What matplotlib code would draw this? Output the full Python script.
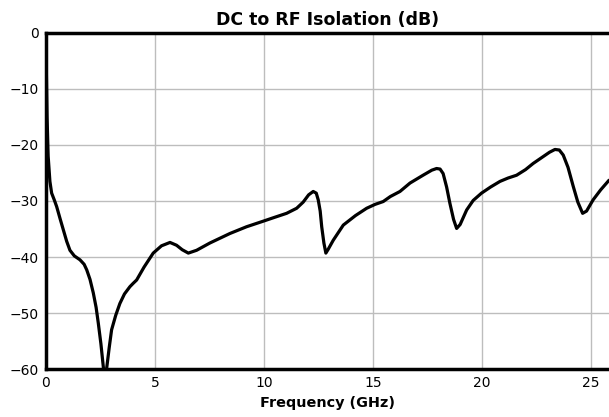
import matplotlib
matplotlib.use("Agg")
import matplotlib.pyplot as plt

# DC to RF isolation
freq_ghz = [
    0.02, 0.05, 0.1, 0.18, 0.26, 0.38, 0.49, 0.65, 0.8, 0.95, 1.1, 1.3,
    1.56, 1.75, 1.87, 2.02, 2.17, 2.3, 2.4, 2.52, 2.63, 2.68, 2.78, 2.9,
    3.01, 3.2, 3.39, 3.6, 3.85, 4.0, 4.16, 4.5, 4.92, 5.3, 5.69, 5.99,
    6.25, 6.53, 6.91, 7.52, 8.44, 9.2, 9.97, 10.5, 11.04, 11.5, 11.8,
    12.05, 12.26, 12.4, 12.49, 12.58, 12.65, 12.75, 12.84, 12.95, 13.18,
    13.64, 14.2, 14.71, 15.1, 15.47, 15.8, 16.24, 16.7, 17.3, 17.7, 17.92,
    18.08, 18.22, 18.38, 18.53, 18.7, 18.84, 19.0, 19.3, 19.6, 19.98,
    20.4, 20.83, 21.2, 21.59, 22.0, 22.35, 22.8, 23.1, 23.35, 23.55,
    23.73, 23.95, 24.19, 24.4, 24.62, 24.8, 25.1, 25.45, 25.83,
]
isolation_db = [
    -7.5, -15, -22, -26.5, -28.6, -29.8, -31, -33.2, -35.2, -37.2, -38.8,
    -39.8, -40.5, -41.3, -42.3, -44.0, -46.4, -49.0, -51.8, -55.5, -59.6,
    -62, -60, -56.2, -53, -50.4, -48.3, -46.6, -45.3, -44.7, -44.1, -41.8,
    -39.3, -38.0, -37.4, -37.9, -38.7, -39.3, -38.8, -37.5, -35.8, -34.6,
    -33.6, -32.9, -32.2, -31.3, -30.2, -28.9, -28.3, -28.6, -29.8, -31.8,
    -34.6, -37.5, -39.3, -38.6, -37.0, -34.3, -32.6, -31.3, -30.6, -30.1,
    -29.2, -28.3, -26.8, -25.4, -24.5, -24.2, -24.3, -25.1, -27.5, -30.4,
    -33.3, -34.9, -34.2, -31.6, -29.9, -28.6, -27.5, -26.5, -25.9, -25.4,
    -24.4, -23.3, -22.1, -21.3, -20.8, -20.9, -21.8, -24.0, -27.4, -30.2,
    -32.2, -31.8, -29.8, -28.0, -26.3,
]

x_ticks = [0, 5, 10, 15, 20, 25]
y_ticks = [0, -10, -20, -30, -40, -50, -60]

fig = plt.figure(figsize=(6.09, 4.17), dpi=100)
ax = fig.add_axes([0.0755, 0.115, 0.9245, 0.806])

ax.plot(freq_ghz, isolation_db, color="black", linewidth=2.3,
        solid_joinstyle="round", solid_capstyle="round", zorder=3)

ax.set_xlim(0, 25.83)
ax.set_ylim(-60, 0)
ax.set_xticks(x_ticks)
ax.set_yticks(y_ticks)
ax.set_yticklabels(["0", "\u221210", "\u221220", "\u221230", "\u221240", "\u221250", "\u221260"])
ax.tick_params(length=0, labelsize=10, pad=5)
ax.grid(True, color="#bdbdbd", linewidth=1)
ax.set_axisbelow(True)

for side in ["top", "left", "bottom"]:
    ax.spines[side].set_linewidth(2.5)
    ax.spines[side].set_color("black")
ax.spines["right"].set_visible(False)

ax.set_title("DC to RF Isolation (dB)", fontsize=12.5, fontweight="bold", pad=6)
ax.set_xlabel("Frequency (GHz)", fontsize=10.4, fontweight="bold", labelpad=4)

fig.savefig("out.png", dpi=100)
